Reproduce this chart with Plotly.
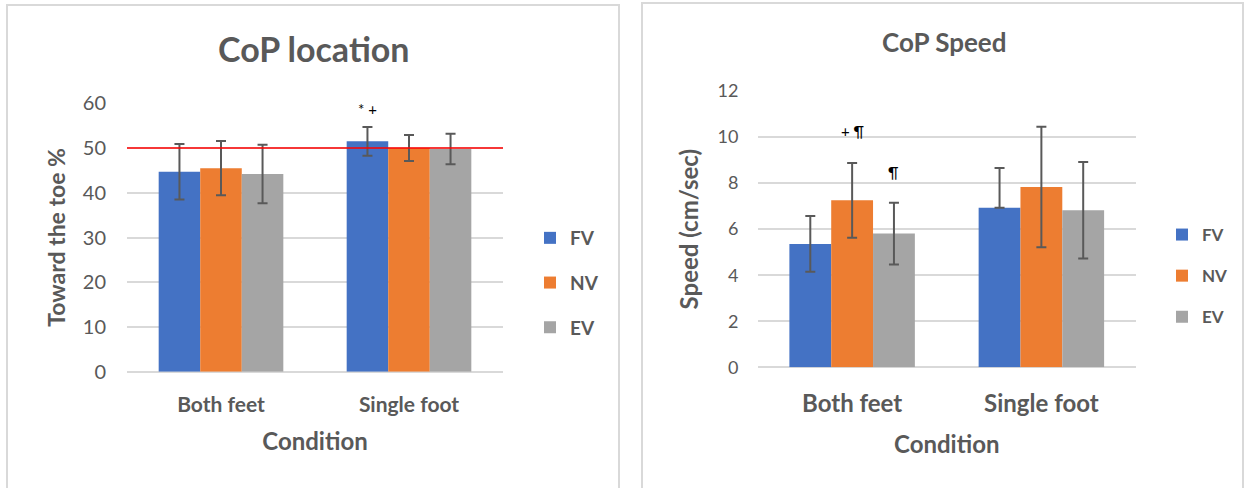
import plotly.graph_objects as go

# ---- data ----
conditions = ["Both feet", "Single foot"]
series_names = ["FV", "NV", "EV"]
colors = ["#4472C4", "#ED7D31", "#A5A5A5"]

# CoP location (% toward the toe)
loc_fv = [44.7, 51.5]
loc_nv = [45.5, 50.0]
loc_ev = [44.2, 49.8]
loc_fv_err = [6.2, 3.2]
loc_nv_err = [6.05, 2.9]
loc_ev_err = [6.55, 3.4]
loc_reference = 50

# CoP speed (cm/sec)
spd_fv = [5.35, 6.93]
spd_nv = [7.25, 7.83]
spd_ev = [5.81, 6.82]
spd_fv_err_plus = [1.22, 1.73]
spd_fv_err_minus = [1.2, None]
spd_nv_err = [1.62, 2.62]
spd_ev_err = [1.34, 2.1]

loc_ticks = [0, 10, 20, 30, 40, 50, 60]
spd_ticks = [0, 2, 4, 6, 8, 10, 12]

# significance marks: (x position in category units, y value, text)
loc_marks = [(1 - 0.22, 58.7, "* +")]
spd_marks = [(0, 10.25, "+ ¶"), (0 + 0.22, 8.5, "¶"), (1 - 0.02, 12.15, "+ ¶")]

W, H = 1245, 488
FONT = "Lato"
GREY = "#595959"
GRID = "#D9D9D9"
ERR = "#595959"

fig = go.Figure()

loc_vals = [loc_fv, loc_nv, loc_ev]
loc_errs = [loc_fv_err, loc_nv_err, loc_ev_err]
for name, col, vals, err in zip(series_names, colors, loc_vals, loc_errs):
    fig.add_trace(go.Bar(
        x=conditions, y=vals, name=name, marker=dict(color=col, line=dict(width=0)),
        error_y=dict(type="data", array=err, color=ERR, thickness=2, width=5),
        xaxis="x", yaxis="y", legend="legend", legendgroup="l" + name,
    ))

spd_vals = [spd_fv, spd_nv, spd_ev]
spd_errs = [
    dict(array=spd_fv_err_plus, arrayminus=spd_fv_err_minus, symmetric=False),
    dict(array=spd_nv_err),
    dict(array=spd_ev_err),
]
for name, col, vals, err in zip(series_names, colors, spd_vals, spd_errs):
    fig.add_trace(go.Bar(
        x=conditions, y=vals, name=name, marker=dict(color=col, line=dict(width=0)),
        error_y=dict(type="data", color=ERR, thickness=2, width=5, **err),
        xaxis="x2", yaxis="y2", legend="legend2", legendgroup="s" + name,
    ))


def px_x(p):
    return p / W


def px_y(p):
    return 1 - p / H


fig.update_layout(
    width=W, height=H,
    margin=dict(l=0, r=0, t=0, b=0, autoexpand=False),
    paper_bgcolor="white", plot_bgcolor="white",
    barmode="group", bargap=0.337, bargroupgap=0,
    font=dict(family=FONT, color=GREY),
    xaxis=dict(domain=[px_x(127), px_x(503)], anchor="y", showgrid=False, showline=False,
               automargin=False, ticks="", ticklabelstandoff=18,
               tickfont=dict(size=21, family=FONT, color=GREY, weight="bold"),
               title=dict(text="<b>Condition</b>", font=dict(size=24, color=GREY), standoff=18)),
    yaxis=dict(domain=[px_y(371.7), px_y(103.3)], anchor="x", range=[0, 60],
               tickvals=loc_ticks, showgrid=True, gridcolor=GRID, gridwidth=2,
               zeroline=True, zerolinecolor=GRID, zerolinewidth=2, showline=False,
               automargin=False, ticks="", ticklabelstandoff=20, tickfont=dict(size=20, color=GREY),
               title=dict(text="<b>Toward the toe %</b>", font=dict(size=23, color=GREY), standoff=10)),
    xaxis2=dict(domain=[px_x(757.5), px_x(1136)], anchor="y2", showgrid=False, showline=False,
                automargin=False, ticks="", ticklabelstandoff=20,
                tickfont=dict(size=24, family=FONT, color=GREY, weight="bold"),
                title=dict(text="<b>Condition</b>", font=dict(size=24, color=GREY), standoff=19)),
    yaxis2=dict(domain=[px_y(367.3), px_y(91)], anchor="x2", range=[0, 12],
                tickvals=spd_ticks, showgrid=True, gridcolor=GRID, gridwidth=2,
                zeroline=True, zerolinecolor=GRID, zerolinewidth=2, showline=False,
                automargin=False, ticks="", ticklabelstandoff=18, tickfont=dict(size=18, color=GREY),
                title=dict(text="<b>Speed (cm/sec)</b>", font=dict(size=24, color=GREY), standoff=12)),
    legend=dict(x=px_x(530), y=px_y(219), xanchor="left", yanchor="top",
                font=dict(size=19, color=GREY, weight="bold"), tracegroupgap=17,
                bgcolor="rgba(0,0,0,0)"),
    legend2=dict(x=px_x(1162), y=px_y(217), xanchor="left", yanchor="top",
                 font=dict(size=17, color=GREY, weight="bold"), tracegroupgap=16,
                 bgcolor="rgba(0,0,0,0)"),
    showlegend=True,
)

# chart titles
fig.add_annotation(text="<b>CoP location</b>", x=px_x(313), y=px_y(48), xref="paper", yref="paper",
                   xanchor="center", yanchor="middle", showarrow=False,
                   font=dict(size=34, color=GREY, family=FONT))
fig.add_annotation(text="<b>CoP Speed</b>", x=px_x(944), y=px_y(42), xref="paper", yref="paper",
                   xanchor="center", yanchor="middle", showarrow=False,
                   font=dict(size=26, color=GREY, family=FONT))

# significance marks
for xv, yv, t in loc_marks:
    fig.add_annotation(text=t, x=xv, y=yv, xref="x", yref="y", showarrow=False,
                       xanchor="center", yanchor="middle",
                       font=dict(size=15, color="black", family=FONT))
for xv, yv, t in spd_marks:
    fig.add_annotation(text=t, x=xv, y=yv, xref="x2", yref="y2", showarrow=False,
                       xanchor="center", yanchor="middle",
                       font=dict(size=15, color="black", family=FONT))

# 50 % reference line
fig.add_shape(type="line", xref="x domain", yref="y", x0=0, x1=1, y0=loc_reference, y1=loc_reference,
              line=dict(color="#FF0000", width=1.5))

# chart frames
fig.add_shape(type="rect", xref="paper", yref="paper", x0=px_x(7), x1=px_x(619), y0=px_y(5), y1=px_y(495),
              line=dict(color=GRID, width=2))
fig.add_shape(type="rect", xref="paper", yref="paper", x0=px_x(642), x1=px_x(1243), y0=px_y(3), y1=px_y(495),
              line=dict(color=GRID, width=2))

fig.write_html("out.html")
